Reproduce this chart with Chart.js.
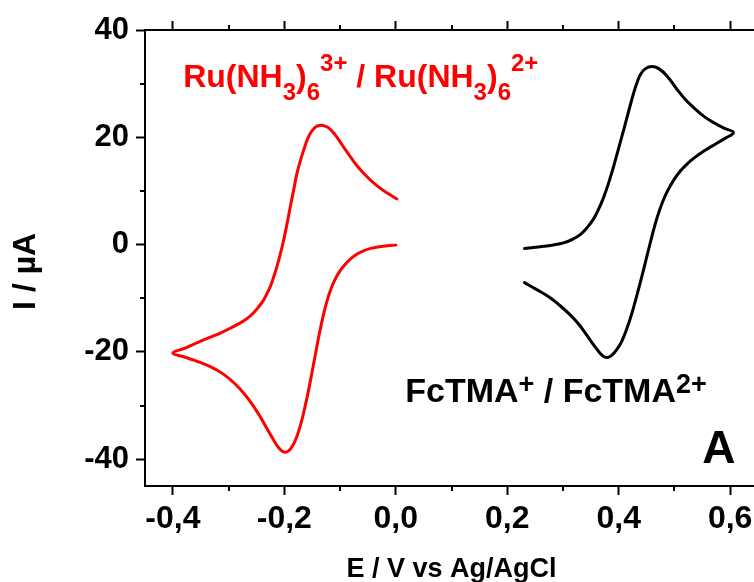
<!DOCTYPE html>
<html>
<head>
<meta charset="utf-8">
<script src="https://cdn.jsdelivr.net/npm/chart.js@4.4.1/dist/chart.umd.min.js"></script>
<style>
html,body{margin:0;padding:0;overflow:hidden;background:#fff;width:754px;height:582px}
#wrap{position:absolute;left:0;top:0;width:780px;height:582px}
</style>
</head>
<body>
<div id="wrap"><canvas id="c" width="780" height="582"></canvas></div>
<script>
// ---- data ----
// Ru(NH3)6 3+/2+ : cathodic sweep 0 -> -0.4 V, then back to 0 V
const ruPotential = [0.000,-0.015,-0.030,-0.045,-0.058,-0.070,-0.081,-0.091,-0.100,-0.108,
  -0.115,-0.121,-0.127,-0.133,-0.139,-0.145,-0.151,-0.157,-0.163,-0.169,
  -0.175,-0.181,-0.187,-0.193,-0.199,-0.205,-0.212,-0.220,-0.230,-0.242,
  -0.256,-0.272,-0.290,-0.310,-0.332,-0.355,-0.378,-0.400,
  -0.378,-0.357,-0.336,-0.315,-0.297,-0.279,-0.267,-0.255,-0.246,-0.237,
  -0.231,-0.225,-0.219,-0.213,-0.207,-0.201,-0.195,-0.189,-0.183,-0.177,
  -0.171,-0.165,-0.159,-0.153,-0.147,-0.141,-0.131,-0.121,-0.109,-0.097,
  -0.085,-0.070,-0.052,-0.034,-0.016,0.002];
const ruCurrent = [-0.1,-0.2,-0.4,-0.7,-1.15,-1.8,-2.65,-3.7,-4.9,-6.3,
  -7.9,-9.7,-11.9,-14.6,-17.6,-20.9,-24.2,-27.4,-30.3,-32.9,
  -35.0,-36.7,-37.8,-38.5,-38.7,-38.4,-37.6,-36.3,-34.5,-32.3,
  -30.0,-27.8,-25.8,-24.1,-22.8,-21.8,-21.0,-20.2,
  -19.3,-18.3,-17.4,-16.5,-15.6,-14.6,-13.8,-12.7,-11.6,-10.3,
  -9.1,-7.8,-6.0,-4.0,-1.7,0.9,3.9,7.2,10.3,13.4,
  15.7,17.7,19.5,20.8,21.6,22.1,22.2,21.8,20.5,18.7,
  16.9,14.75,12.7,11.0,9.65,8.5];

// FcTMA+/2+ : anodic sweep 0.23 -> 0.61 V, then back to 0.23 V
const fcPotential = [0.231,0.247,0.265,0.283,0.301,0.316,0.331,0.343,0.355,0.364,
  0.373,0.382,0.391,0.400,0.409,0.418,0.427,0.433,0.439,0.448,
  0.460,0.472,0.487,0.505,0.520,0.535,0.553,0.571,0.589,0.606,
  0.590,0.574,0.555,0.535,0.523,0.511,0.499,0.487,0.478,0.469,
  0.463,0.457,0.451,0.445,0.436,0.427,0.418,0.409,0.402,0.394,
  0.387,0.380,0.373,0.367,0.355,0.343,0.328,0.313,0.295,0.277,
  0.253,0.231];
const fcCurrent = [-0.75,-0.56,-0.32,-0.06,0.32,0.93,1.86,3.11,4.8,6.6,
  8.8,11.5,14.6,18.0,21.4,24.9,28.3,30.2,31.7,32.8,
  33.2,32.8,31.4,28.9,27.0,25.5,23.9,22.7,21.7,20.9,
  19.75,18.76,17.57,16.12,15.06,13.75,12.07,9.88,7.74,5.04,
  2.87,0.47,-2.02,-4.51,-8.15,-11.6,-14.68,-17.2,-18.73,-19.9,
  -20.7,-21.05,-20.85,-20.3,-18.7,-16.9,-14.8,-13.1,-11.4,-9.9,
  -8.4,-7.1];

const xTickValues = [-0.4,-0.2,0.0,0.2,0.4,0.6];
const xTickLabels = ['-0,4','-0,2','0,0','0,2','0,4','0,6'];
const yTickValues = [-40,-20,0,20,40];
const yTickLabels = ['-40','-20','0','20','40'];

const xTitle = 'E / V vs Ag/AgCl';
const yTitle = 'I / µA';
const ruLabelParts = [['Ru(NH','n'],['3','sub'],[')','n'],['6','sub'],['3+','sup'],[' / Ru(NH','n'],['3','sub'],[')','n'],['6','sub'],['2+','sup']];
const fcLabelParts = [['FcTMA','n'],['+','sup'],[' / FcTMA','n'],['2+','sup']];
const panelLabelParts = [['A','n']];

// ---- styling / layout ----
const FONT = "'Liberation Sans', Arial, Helvetica, sans-serif";
const annotations = [
  {parts: ruLabelParts, E: -0.3815, I: 29.3, color: '#ff0000', size: 32, small: 24, sub: 13, sup: -16},
  {parts: fcLabelParts, E: 0.017, I: -29.3, color: '#000000', size: 34, small: 27, sub: 0, sup: -9},
  {parts: panelLabelParts, E: 0.550, I: -40.65, color: '#000000', size: 46, small: 46, sub: 0, sup: 0}
];

const minorTicks = {
  id: 'minorTicks',
  afterDraw(chart) {
    const ctx = chart.ctx, a = chart.chartArea;
    const xs = chart.scales.x, ys = chart.scales.y;
    const mids = t => t.slice(0, -1).map((k, i) => (k.value + t[i + 1].value) / 2);
    ctx.save();
    ctx.strokeStyle = '#000';
    ctx.lineWidth = 2;
    ctx.beginPath();
    mids(xs.ticks).forEach(v => {
      const p = Math.round(xs.getPixelForValue(v));
      ctx.moveTo(p, a.bottom); ctx.lineTo(p, a.bottom + 5);
      ctx.moveTo(p, a.top); ctx.lineTo(p, a.top - 5);
    });
    mids(ys.ticks).forEach(v => {
      const p = Math.round(ys.getPixelForValue(v));
      ctx.moveTo(a.left, p); ctx.lineTo(a.left - 5, p);
    });
    ctx.stroke();
    ctx.restore();
  }
};

const textLabels = {
  id: 'textLabels',
  afterDraw(chart) {
    const ctx = chart.ctx, xs = chart.scales.x, ys = chart.scales.y;
    annotations.forEach(an => {
      let x = xs.getPixelForValue(an.E);
      const y = ys.getPixelForValue(an.I);
      ctx.save();
      ctx.fillStyle = an.color;
      ctx.textAlign = 'left';
      ctx.textBaseline = 'alphabetic';
      an.parts.forEach(([t, kind]) => {
        const sz = kind === 'n' ? an.size : an.small;
        ctx.font = 'bold ' + sz + 'px ' + FONT;
        const dy = kind === 'sub' ? an.sub : (kind === 'sup' ? an.sup : 0);
        ctx.fillText(t, x, y + dy);
        x += ctx.measureText(t).width;
      });
      ctx.restore();
    });
  }
};

const gridOpts = {drawOnChartArea: false, drawTicks: true, tickLength: 9, tickWidth: 2, tickColor: '#000'};
const borderOpts = {display: true, width: 2, color: '#000'};

new Chart(document.getElementById('c'), {
  type: 'line',
  data: {
    datasets: [
      {
        label: 'Ru(NH3)6 3+ / Ru(NH3)6 2+',
        data: ruPotential.map((e, i) => ({x: e, y: ruCurrent[i]})),
        borderColor: '#ff0000', borderWidth: 3, pointRadius: 0, tension: 0.4,
        fill: false, borderCapStyle: 'round', borderJoinStyle: 'round'
      },
      {
        label: 'FcTMA+ / FcTMA2+',
        data: fcPotential.map((e, i) => ({x: e, y: fcCurrent[i]})),
        borderColor: '#000000', borderWidth: 3, pointRadius: 0, tension: 0.4,
        fill: false, borderCapStyle: 'round', borderJoinStyle: 'round'
      }
    ]
  },
  options: {
    responsive: false,
    devicePixelRatio: 1,
    animation: false,
    layout: {padding: {left: 0, top: 0, right: 22, bottom: 0}},
    plugins: {legend: {display: false}, tooltip: {enabled: false}},
    scales: {
      x: {
        type: 'linear', position: 'bottom', min: -0.45, max: 0.65,
        afterBuildTicks: s => { s.ticks = xTickValues.map(v => ({value: v})); },
        afterFit: s => { s.height = 96; },
        ticks: {
          callback: (v, i) => xTickLabels[i],
          font: {family: FONT, size: 32, weight: 'bold'}, color: '#000',
          padding: 5, maxRotation: 0, autoSkip: false
        },
        grid: gridOpts,
        border: borderOpts,
        title: {display: true, text: xTitle, color: '#000',
          font: {family: FONT, size: 27, weight: 'bold'}, padding: {top: 0, bottom: -4}}
      },
      x2: {
        type: 'linear', position: 'top', min: -0.45, max: 0.65,
        afterBuildTicks: s => { s.ticks = xTickValues.map(v => ({value: v})); },
        afterFit: s => { s.height = 30; },
        ticks: {display: false},
        grid: gridOpts,
        border: borderOpts
      },
      y: {
        type: 'linear', position: 'left', min: -45, max: 40,
        afterBuildTicks: s => { s.ticks = yTickValues.map(v => ({value: v})); },
        afterFit: s => { s.width = 145; },
        ticks: {
          callback: (v, i) => yTickLabels[i],
          font: {family: FONT, size: 31, weight: 'bold'}, color: '#000',
          padding: 7, autoSkip: false
        },
        grid: gridOpts,
        border: borderOpts,
        title: {display: true, text: yTitle + '   ', color: '#000',
          font: {family: FONT, size: 32, weight: 'bold'}, padding: {top: 7, bottom: 0}}
      }
    }
  },
  plugins: [minorTicks, textLabels]
});
</script>
</body>
</html>
